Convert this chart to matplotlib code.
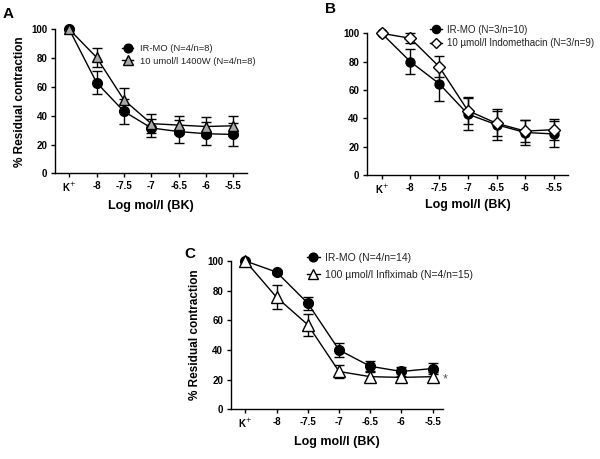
import matplotlib
matplotlib.use("Agg")
import matplotlib.pyplot as plt
from matplotlib.lines import Line2D
import numpy as np

plt.rcParams['font.family'] = ['Liberation Sans', 'DejaVu Sans']

tick_labels = ["K$^{+}$", "-8", "-7.5", "-7", "-6.5", "-6", "-5.5"]

# Panel A
a_ir = [100, 63, 43, 31.5, 29, 27.5, 27]
a_ir_err = [0, 8, 8.5, 6, 8, 8, 8]
a_w = [100, 80.5, 51, 34.5, 33.5, 32.5, 33]
a_w_err = [0, 6.5, 8, 6.5, 6.5, 6.5, 7]

# Panel B
b_ir = [100, 80, 64.5, 43, 35.5, 30, 29]
b_ir_err = [0, 9, 12, 11.5, 11, 8.5, 9]
b_ind = [100, 96.5, 76.5, 45.5, 36.5, 31, 32]
b_ind_err = [0, 3.5, 7.5, 9.5, 9, 8, 7.5]

# Panel C
c_ir = [100, 92.5, 71.5, 40, 29, 25.5, 27.5]
c_ir_err = [0, 1.5, 4.5, 5, 3.5, 3, 3.5]
c_inf = [100, 75.5, 57, 25.5, 22, 21.5, 22]
c_inf_err = [0, 8, 7.5, 4.5, 3, 3, 3]

fig = plt.figure(figsize=(6, 4.59), dpi=100)

def style_axes(ax, xlim):
    x = np.arange(len(tick_labels))
    ax.set_xlim(*xlim)
    ax.set_ylim(0, 100)
    ax.set_xticks(x)
    ax.set_xticklabels(tick_labels, fontsize=7, fontweight='bold')
    ax.set_yticks([0, 20, 40, 60, 80, 100])
    ax.set_yticklabels(['0', '20', '40', '60', '80', '100'], fontsize=7, fontweight='bold')
    for s in ['top', 'right']:
        ax.spines[s].set_visible(False)
    for s in ['left', 'bottom']:
        ax.spines[s].set_linewidth(1.0)
    ax.tick_params(direction='out', length=3, width=1, pad=2.5)
    ax.set_xlabel('Log mol/l (BK)', fontsize=9, fontweight='bold', labelpad=4)
    return x

def plot_series(ax, x, y, err, marker, mfc, ms):
    eb = ax.errorbar(x, y, yerr=err, color='black', lw=1, elinewidth=1, capsize=3.5,
                     capthick=1, marker=marker, mfc=mfc, mec='black', ms=ms,
                     mew=1, clip_on=False, zorder=3)
    for art in eb.get_children():
        art.set_clip_on(False)
    return Line2D([], [], color='black', lw=1, marker=marker, mfc=mfc, mec='black',
                  ms=ms * 0.9, mew=1)

def add_legend(ax, handles, labels, anchor, fs, spacing, tpad):
    ax.legend(handles, labels, loc='upper left', bbox_to_anchor=anchor, frameon=False,
              fontsize=fs, handlelength=1.2, handletextpad=tpad, labelspacing=spacing,
              borderpad=0.2, labelcolor='#222222')

# A
axA = fig.add_axes([0.0917, 0.6224, 0.3195, 0.3137])
x = style_axes(axA, (-0.52, 6.49))
h1 = plot_series(axA, x, a_ir, a_ir_err, 'o', 'black', 7)
h2 = plot_series(axA, x, a_w, a_w_err, '^', '#a8a8a8', 7.5)
axA.set_ylabel('% Residual contraction', fontsize=8.5, fontweight='bold', labelpad=4)
add_legend(axA, [h1, h2], ['IR-MO (N=4/n=8)', '10 umol/l 1400W (N=4/n=8)'],
           (0.315, 0.945), 6.75, 0.4, 0.7)
fig.text(8/600, 1 - 14/459, 'A', fontsize=11, fontweight='bold', ha='center', va='center')

# B
axB = fig.add_axes([0.6112, 0.6187, 0.336, 0.3087])
x = style_axes(axB, (-0.52, 6.5))
h1 = plot_series(axB, x, b_ir, b_ir_err, 'o', 'black', 6.5)
h2 = plot_series(axB, x, b_ind, b_ind_err, 'D', 'white', 6)
axB.xaxis.labelpad = 2
add_legend(axB, [h1, h2], ['IR-MO (N=3/n=10)', '10 µmol/l Indomethacin (N=3/n=9)'],
           (0.28, 1.11), 7, 0.35, 0.5)
fig.text(331/600, 1 - 9/459, 'B', fontsize=11, fontweight='bold', ha='center', va='center')

# C
axC = fig.add_axes([0.3845, 0.1083, 0.3543, 0.3231])
x = style_axes(axC, (-0.47, 6.34))
h1 = plot_series(axC, x, c_ir, c_ir_err, 'o', 'black', 7)
h2 = plot_series(axC, x, c_inf, c_inf_err, '^', 'white', 8)
axC.set_ylabel('% Residual contraction', fontsize=8.5, fontweight='bold', labelpad=4)
add_legend(axC, [h1, h2], ['IR-MO (N=4/n=14)', '100 µmol/l Inflximab (N=4/n=15)'],
           (0.325, 1.105), 7.5, 0.7, 0.5)
axC.annotate('*', xy=(x[-1], c_inf[-1]), xytext=(9, -2), textcoords='offset points',
             fontsize=9, color='#555555', ha='center', va='center', annotation_clip=False)
fig.text(190/600, 1 - 254/459, 'C', fontsize=11, fontweight='bold', ha='center', va='center')

fig.savefig('out.png', dpi=100)
